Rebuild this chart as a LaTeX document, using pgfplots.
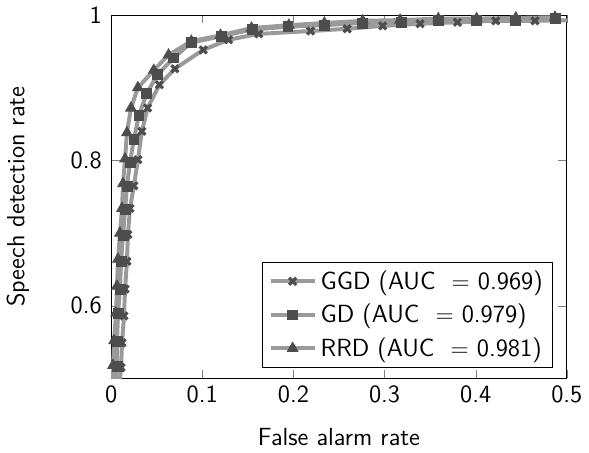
\documentclass[border=0pt]{standalone}
\usepackage{pgfplots}
\pgfplotsset{compat=1.18}
\renewcommand{\familydefault}{\sfdefault}
\definecolor{linegray}{HTML}{9A9A9A}
\definecolor{markgray}{HTML}{4D4D4D}
\newcommand{\myfont}{\fontsize{12.5}{15}\selectfont\sffamily}
\begin{document}
\begin{tikzpicture}
\begin{axis}[
  scale only axis,
  width=229.5pt, height=183pt,
  xmin=0, xmax=0.5, ymin=0.5, ymax=1,
  xtick={0,0.1,0.2,0.3,0.4,0.5},
  ytick={0.6,0.8,1},
  xticklabels={0,0.1,0.2,0.3,0.4,0.5},
  yticklabels={0.6,0.8,1},
  tick label style={font=\myfont},
  yticklabel style={xshift=-1.2pt},
  label style={font=\myfont},
  xlabel={False alarm rate},
  ylabel={Speech detection rate},
  xlabel style={yshift=-6pt},
  ylabel style={yshift=14pt},
  legend pos=south east,
  legend cell align=left,
  legend style={font=\myfont, row sep=2pt},
  legend image code/.code={\draw[mark repeat=2,mark phase=2] plot coordinates {(0cm,0cm) (0.39cm,0cm) (0.78cm,0cm)};},
  every axis plot/.append style={line width=2pt, color=linegray},
  major tick style={gray},
]
\addplot[mark=x, mark size=2.5pt, mark options={color=markgray, line width=1.6pt}] coordinates {
(0.006,0.45)
(0.0109,0.515) (0.012,0.549) (0.0142,0.586) (0.0153,0.623) (0.0174,0.661)
(0.0185,0.698) (0.0207,0.734) (0.025,0.765) (0.0294,0.801) (0.0338,0.840)
(0.040,0.872) (0.053,0.904) (0.070,0.926) (0.101,0.952) (0.129,0.966)
(0.162,0.974) (0.219,0.978) (0.259,0.981) (0.298,0.985) (0.339,0.988)
(0.380,0.990) (0.422,0.992) (0.465,0.992) (0.51,0.993)
};
\addlegendentry{GGD (AUC \ $=$ 0.969)}
\addplot[mark=square*, mark size=2.5pt, mark options={color=markgray, fill=markgray, line width=0.4pt}] coordinates {
(0.004,0.45)
(0.0065,0.517) (0.0065,0.551) (0.0076,0.589) (0.0098,0.623) (0.0109,0.661)
(0.0131,0.697) (0.0153,0.732) (0.0174,0.764) (0.0207,0.797) (0.025,0.829)
(0.0305,0.862) (0.039,0.892) (0.051,0.918) (0.0686,0.941) (0.088,0.962)
(0.121,0.971) (0.155,0.980) (0.194,0.984) (0.234,0.986) (0.276,0.989)
(0.318,0.990) (0.359,0.992) (0.401,0.992) (0.444,0.993) (0.487,0.995)
};
\addlegendentry{GD (AUC \ $=$ 0.979)}
\addplot[mark=triangle*, mark size=3.1pt, mark options={color=markgray, fill=markgray, line width=0.4pt}] coordinates {
(0.001,0.45)
(0.0022,0.518) (0.0033,0.552) (0.0054,0.590) (0.0065,0.627) (0.0076,0.664)
(0.0098,0.700) (0.012,0.734) (0.0131,0.768) (0.0153,0.802) (0.0174,0.838)
(0.0218,0.872) (0.0294,0.900) (0.0468,0.924) (0.063,0.945) (0.088,0.964)
(0.12,0.972) (0.154,0.982) (0.195,0.986) (0.234,0.989) (0.276,0.992)
(0.317,0.993) (0.359,0.995) (0.401,0.995) (0.444,0.996) (0.487,0.997)
};
\addlegendentry{RRD (AUC \ $=$ 0.981)}
\end{axis}
\end{tikzpicture}
\end{document}
